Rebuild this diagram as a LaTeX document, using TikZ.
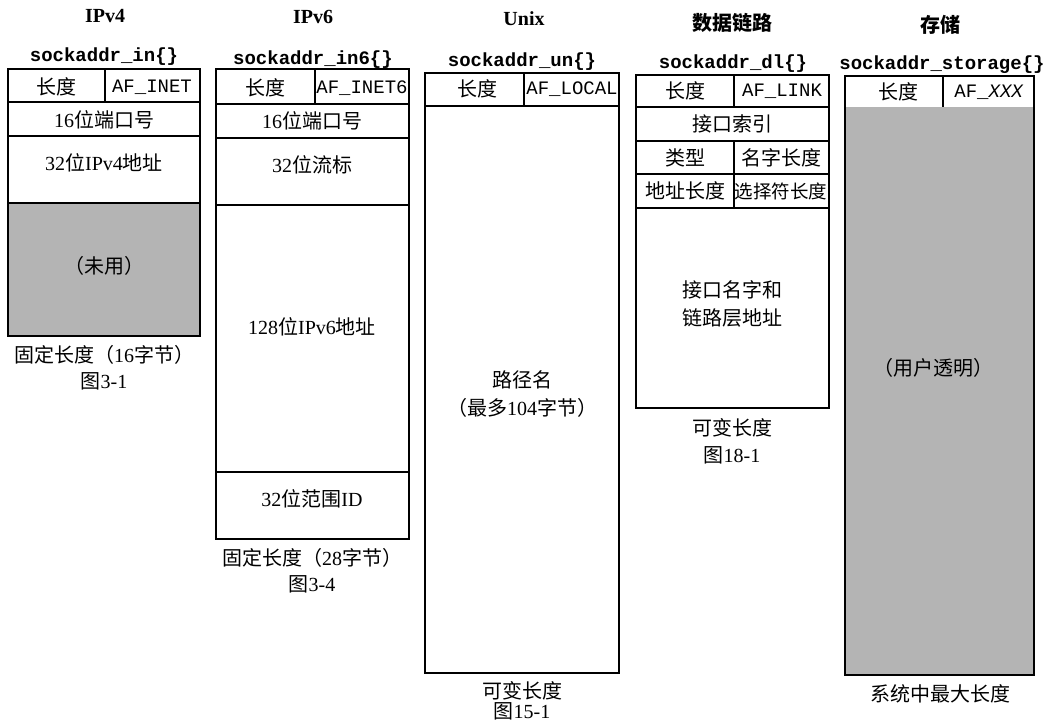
\documentclass[tikz,border=0pt]{standalone}
\usepackage{fontspec}
\setmainfont{Liberation Serif}
\setmonofont{Liberation Mono}
\newfontfamily\cjk{Noto Sans CJK SC}
\newcommand{\zh}[1]{{\cjk #1}}
\definecolor{grisfond}{RGB}{180,180,180}
\usepackage{tikz}

\begin{document}
\begin{tikzpicture}[x=1pt,y=-1pt,
  cadre/.style={line width=1.1pt},
  champ/.style={inner sep=0pt,font=\fontsize{20}{23}\selectfont},
  code/.style={inner sep=0pt,font=\ttfamily\fontsize{19}{22}\selectfont},
  entete/.style={inner sep=0pt,font=\ttfamily\bfseries\fontsize{19}{22}\selectfont},
  titre/.style={inner sep=0pt,font=\bfseries\fontsize{20}{23}\selectfont}]
\useasboundingbox (0,0) rectangle (1049,723);
\fill [grisfond] (8,203) rectangle (200,336);
\fill [grisfond] (845,107) rectangle (1034,675);
\draw [cadre] (8,69) rectangle (200,336);
\foreach \y in {102,136,203} \draw [cadre] (8,\y)--(200,\y);
\draw [cadre] (105,69)--(105,102);
\draw [cadre] (216,69) rectangle (409,539);
\foreach \y in {104,138,205,472} \draw [cadre] (216,\y)--(409,\y);
\draw [cadre] (315,69)--(315,104);
\draw [cadre] (425,73) rectangle (619,673);
\draw [cadre] (425,106)--(619,106);
\draw [cadre] (524,73)--(524,106);
\draw [cadre] (636,75) rectangle (829,408);
\foreach \y in {107,141,174,208} \draw [cadre] (636,\y)--(829,\y);
\draw [cadre] (734,75)--(734,107);
\draw [cadre] (734,141)--(734,208);
\draw [cadre] (845,76) rectangle (1034,675);
\draw [cadre] (943,76)--(943,107);
\node [titre] (ipv4) at (105,16) {IPv4};
\node [titre] (ipv6) at (313,17) {IPv6};
\node [titre] (unix) at (524,19) {Unix};
\node [titre] (liaison) at (732,23) {\zh{数据链路}};
\node [titre] (stockage) at (940,25) {\zh{存储}};
\node [entete] (in) at (104,57) {sockaddr\_in\{\}};
\node [entete] (in6) at (313,60) {sockaddr\_in6\{\}};
\node [entete] (un) at (522,62) {sockaddr\_un\{\}};
\node [entete] (dl) at (733,64) {sockaddr\_dl\{\}};
\node [entete] (storage) at (942,65) {sockaddr\_storage\{\}};
\node [champ] (in-lg) at (56,87) {\zh{长度}};
\node [code] (in-fam) at (152,87) {AF\_INET};
\node [champ] (in-port) at (104,120) {16\zh{位端口号}};
\node [champ] (in-adr) at (104,163) {32\zh{位}IPv4\zh{地址}};
\node [champ] (in-vide) at (104,266) {\zh{（未用）}};
\node [champ] (in-cap) at (104,355) {\zh{固定长度（}16\zh{字节）}};
\node [champ] (in-fig) at (104,381) {\zh{图}3-1};
\node [champ] (in6-lg) at (265,88) {\zh{长度}};
\node [code] (in6-fam) at (362,88) {AF\_INET6};
\node [champ] (in6-port) at (312,121) {16\zh{位端口号}};
\node [champ] (in6-flux) at (312,165) {32\zh{位流标}};
\node [champ] (in6-adr) at (312,327) {128\zh{位}IPv6\zh{地址}};
\node [champ] (in6-id) at (312,499) {32\zh{位范围}ID};
\node [champ] (in6-cap) at (312,558) {\zh{固定长度（}28\zh{字节）}};
\node [champ] (in6-fig) at (312,584) {\zh{图}3-4};
\node [champ] (un-lg) at (477,89) {\zh{长度}};
\node [code] (un-fam) at (572,89) {AF\_LOCAL};
\node [champ] (un-chemin) at (522,380) {\zh{路径名}};
\node [champ] (un-max) at (522,408) {\zh{（最多}104\zh{字节）}};
\node [champ] (un-cap) at (522,691) {\zh{可变长度}};
\node [champ] (un-fig) at (522,711) {\zh{图}15-1};
\node [champ] (dl-lg) at (685,91) {\zh{长度}};
\node [code] (dl-fam) at (782,91) {AF\_LINK};
\node [champ] (dl-index) at (732,124) {\zh{接口索引}};
\node [champ] (dl-type) at (685,158) {\zh{类型}};
\node [champ] (dl-nlen) at (781,158) {\zh{名字长度}};
\node [champ] (dl-alen) at (685,191) {\zh{地址长度}};
\node [champ,font=\fontsize{18.5}{22}\selectfont] (dl-slen) at (781,191) {\zh{选择符长度}};
\node [champ] (dl-nom) at (732,290) {\zh{接口名字和}};
\node [champ] (dl-adr) at (732,318) {\zh{链路层地址}};
\node [champ] (dl-cap) at (732,428) {\zh{可变长度}};
\node [champ] (dl-fig) at (732,455) {\zh{图}18-1};
\node [champ] (st-lg) at (898,92) {\zh{长度}};
\node [code] (st-fam) at (989,92) {AF\_\textit{XXX}};
\node [champ] (st-opaque) at (933,368) {\zh{（用户透明）}};
\node [champ] (st-cap) at (940,694) {\zh{系统中最大长度}};
\end{tikzpicture}
\end{document}
